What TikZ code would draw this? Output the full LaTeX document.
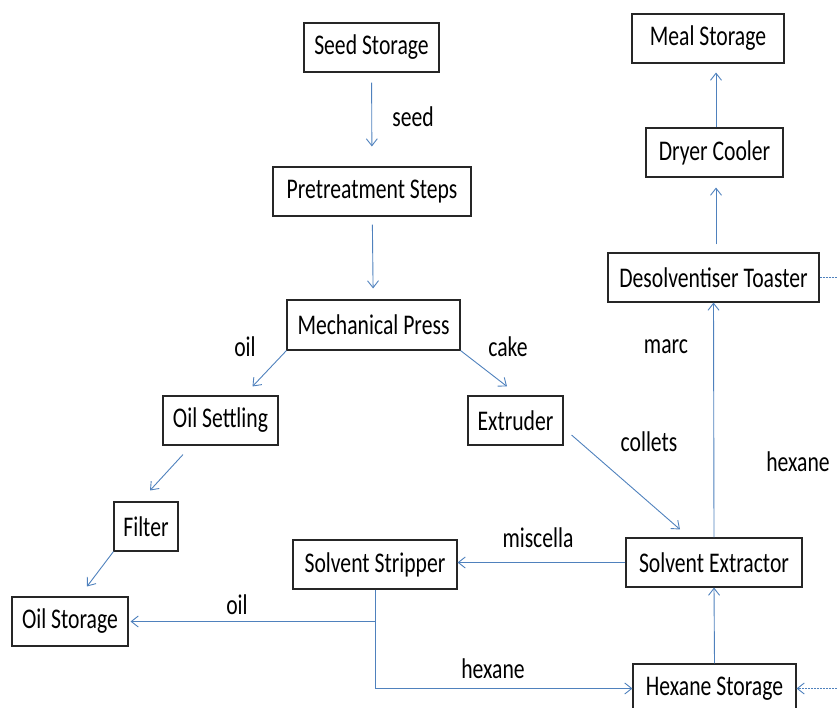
\documentclass[tikz,border=0pt]{standalone}
\usepackage{fontspec}
\setmainfont{Carlito}
\newfontfamily\narrowfont{Carlito}[FakeStretch=0.76]
\usetikzlibrary{arrows.meta,calc}
\definecolor{flowblue}{HTML}{4F81BD}
\begin{document}
\begin{tikzpicture}[x=1pt,y=-1pt,
  every node/.style={font=\narrowfont\fontsize{28.5}{34}\selectfont, inner sep=0pt},
  box/.style={draw=black!85, line width=1.1pt, fill=white, minimum height=49pt},
  flow/.style={draw=flowblue, line width=0.9pt, -{Straight Barb[length=7pt,width=11pt]}},
  dotline/.style={draw=flowblue, line width=0.9pt, dash pattern=on 2pt off 1pt},
  lbl/.style={text=black}]
\useasboundingbox (0,0) rectangle (837,707);

% process units
\node[box, minimum width=135pt] (seed) at (371.5,47.5) {Seed Storage};
\node[box, minimum width=198pt] (pre)  at (372,191.5) {Pretreatment Steps};
\node[box, minimum width=173pt, minimum height=50pt] (mp) at (373.5,325) {Mechanical Press};
\node[box, minimum width=152pt] (meal) at (708,38.5) {Meal Storage};
\node[box, minimum width=137pt] (dry)  at (714.5,152.5) {Dryer Cooler};
\node[box, minimum width=211pt] (des)  at (713.5,277.5) {Desolventiser Toaster};
\node[box, minimum width=115pt] (os)   at (220.5,420.5) {Oil Settling};
\node[box, minimum width=95pt]  (ext)  at (515.5,420.5) {Extruder};
\node[box, minimum width=64pt]  (fil)  at (146,526.5) {Filter};
\node[box, minimum width=164pt] (ss)   at (375,564.5) {Solvent Stripper};
\node[box, minimum width=176pt] (se)   at (714,562.5) {Solvent Extractor};
\node[box, minimum width=116pt] (ost)  at (70,621.5) {Oil Storage};
\node[box, minimum width=163pt] (hs)   at (714.5,688.5) {Hexane Storage};

% free ends of the recycle lines at the right edge
\coordinate (desR) at (837,277.5);
\coordinate (hsR)  at (837,688.5);
\coordinate (jn)   at (ss.south |- ost.east);
% vertical product line above the toaster
\coordinate (upA)  at ($(dry.north)+(1.5,0)$);
\coordinate (upB)  at ($(des.north)+(2.5,0)$);

% connectors
\draw[flow, shorten <=10pt, shorten >=20pt] (seed) -- (pre);
\draw[flow, shorten <=8pt, shorten >=11pt] (pre) -- (mp);
\draw[flow] (mp.south west) -- ($(os.north)+(32,-9)$);
\draw[flow] (mp.south east) -- ($(ext.north)+(-8.5,-9)$);
\draw[flow] ($(os.south)+(-37.5,9)$) -- ($(fil.north)+(4,-11)$);
\draw[flow] (fil.south west) -- ($(ost.north)+(17,-10)$);
\draw[flow] ($(ext.east)+(8,14.5)$) -- ($(se.north)+(-34,-8)$);
\draw[flow] (se.west) -- (se.west -| ss.east);
\draw[flow] (ss.south) |- (hs.west);
\draw[flow] (jn) -- ($(ost.east)+(2,0)$);
\draw[flow] (hs.north) -- (se.south);
\draw[flow] (se.north) -- (des.south);
\draw[flow, shorten <=8pt, shorten >=10pt] (upB) -- (upB |- dry.south);
\draw[flow, shorten >=9pt] (upA) -- (upA |- meal.south);
\draw[dotline] (des.east) -- (desR);
\draw[dotline, -{Straight Barb[length=7pt,width=11pt]}] (hsR) -- (hs.east);

% stream labels
\node[lbl] (lseed)  at (413,117) {seed};
\node[lbl] (loil)   at (245,347) {oil};
\node[lbl] (lcake)  at (508,347) {cake};
\node[lbl] (lcoll)  at (649,442) {collets};
\node[lbl] (lmarc)  at (666,347) {marc};
\node[lbl] (lhexr)  at (798,462) {hexane};
\node[lbl] (lmisc)  at (538,538) {miscella};
\node[lbl] (loil2)  at (237,605) {oil};
\node[lbl] (lhexb)  at (493,669) {hexane};
\end{tikzpicture}
\end{document}
